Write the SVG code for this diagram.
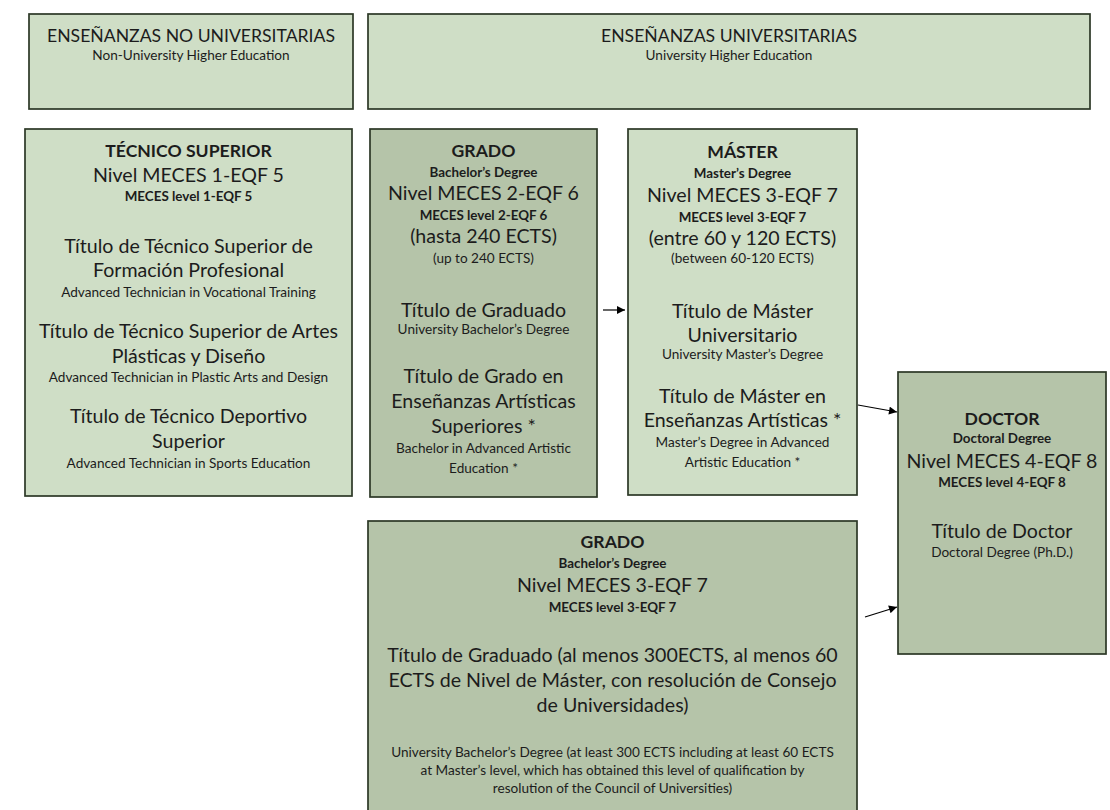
<svg xmlns="http://www.w3.org/2000/svg" width="1110" height="810" viewBox="0 0 1110 810">
<style>
text{font-family:Lato,"Liberation Sans",sans-serif;fill:#1c1c1c;text-anchor:middle}
.box{stroke:#2c3826;stroke-width:1.7}
.light{fill:#cfdec6}
.dark{fill:#b5c4a9}
.h{font-size:17.6px}
.t{font-size:17.6px;font-weight:bold}
.L{font-size:19.6px}
.s{font-size:13.6px}
.sb{font-size:13.4px;font-weight:bold}
.c{stroke:#000;stroke-width:1.2;fill:none;marker-end:url(#ah)}
</style>
<defs>
<marker id="ah" viewBox="0 0 10 10" refX="10" refY="5" markerWidth="9" markerHeight="8" markerUnits="userSpaceOnUse" orient="auto">
<path d="M0,0 L10,5 L0,10 z" fill="#000"/>
</marker>
</defs>
<rect width="1110" height="810" fill="#fff"/>
<g id="hdr-nouniv">
<rect class="box light" x="29" y="14" width="324" height="95"/>
<text class="h" x="191" y="42">ENSEÑANZAS NO UNIVERSITARIAS</text>
<text class="s" x="191" y="60">Non-University Higher Education</text>
</g>
<g id="hdr-univ">
<rect class="box light" x="368" y="14" width="722" height="95"/>
<text class="h" x="729" y="42">ENSEÑANZAS UNIVERSITARIAS</text>
<text class="s" x="729" y="60">University Higher Education</text>
</g>
<g id="tecnico">
<rect class="box light" x="25" y="129" width="327" height="367"/>
<text class="t" x="188.5" y="157">TÉCNICO SUPERIOR</text>
<text class="L" x="188.5" y="182">Nivel MECES 1-EQF 5</text>
<text class="sb" x="188.5" y="201">MECES level 1-EQF 5</text>
<text class="L" x="188.5" y="253">Título de Técnico Superior de</text>
<text class="L" x="188.5" y="277">Formación Profesional</text>
<text class="s" x="188.5" y="297">Advanced Technician in Vocational Training</text>
<text class="L" x="188.5" y="338">Título de Técnico Superior de Artes</text>
<text class="L" x="188.5" y="363">Plásticas y Diseño</text>
<text class="s" x="188.5" y="382">Advanced Technician in Plastic Arts and Design</text>
<text class="L" x="188.5" y="423">Título de Técnico Deportivo</text>
<text class="L" x="188.5" y="448">Superior</text>
<text class="s" x="188.5" y="468">Advanced Technician in Sports Education</text>
</g>
<g id="grado1">
<rect class="box dark" x="370" y="129" width="227" height="368"/>
<text class="t" x="483.5" y="157">GRADO</text>
<text class="sb" x="483.5" y="177">Bachelor’s Degree</text>
<text class="L" x="483.5" y="200">Nivel MECES 2-EQF 6</text>
<text class="sb" x="483.5" y="220">MECES level 2-EQF 6</text>
<text class="L" x="483.5" y="243">(hasta 240 ECTS)</text>
<text class="s" x="483.5" y="263">(up to 240 ECTS)</text>
<text class="L" x="483.5" y="317">Título de Graduado</text>
<text class="s" x="483.5" y="334">University Bachelor’s Degree</text>
<text class="L" x="483.5" y="383">Título de Grado en</text>
<text class="L" x="483.5" y="408">Enseñanzas Artísticas</text>
<text class="L" x="483.5" y="433">Superiores *</text>
<text class="s" x="483.5" y="453">Bachelor in Advanced Artistic</text>
<text class="s" x="483.5" y="473">Education *</text>
</g>
<g id="master">
<rect class="box light" x="628" y="129" width="229" height="366"/>
<text class="t" x="742.5" y="158">MÁSTER</text>
<text class="sb" x="742.5" y="178">Master’s Degree</text>
<text class="L" x="742.5" y="202">Nivel MECES 3-EQF 7</text>
<text class="sb" x="742.5" y="222">MECES level 3-EQF 7</text>
<text class="L" x="742.5" y="245">(entre 60 y 120 ECTS)</text>
<text class="s" x="742.5" y="263">(between 60-120 ECTS)</text>
<text class="L" x="742.5" y="318">Título de Máster</text>
<text class="L" x="742.5" y="342">Universitario</text>
<text class="s" x="742.5" y="359">University Master’s Degree</text>
<text class="L" x="742.5" y="403">Título de Máster en</text>
<text class="L" x="742.5" y="427">Enseñanzas Artísticas *</text>
<text class="s" x="742.5" y="447">Master’s Degree in Advanced</text>
<text class="s" x="742.5" y="467">Artistic Education *</text>
</g>
<g id="doctor">
<rect class="box dark" x="898" y="372" width="208" height="282"/>
<text class="t" x="1002" y="425">DOCTOR</text>
<text class="sb" x="1002" y="443">Doctoral Degree</text>
<text class="L" x="1002" y="468">Nivel MECES 4-EQF 8</text>
<text class="sb" x="1002" y="487">MECES level 4-EQF 8</text>
<text class="L" x="1002" y="538">Título de Doctor</text>
<text class="s" x="1002" y="557">Doctoral Degree (Ph.D.)</text>
</g>
<g id="grado2">
<rect class="box dark" x="368" y="521" width="489" height="300"/>
<text class="t" x="612.5" y="548">GRADO</text>
<text class="sb" x="612.5" y="568">Bachelor’s Degree</text>
<text class="L" x="612.5" y="592">Nivel MECES 3-EQF 7</text>
<text class="sb" x="612.5" y="612">MECES level 3-EQF 7</text>
<text class="L" x="612.5" y="662">Título de Graduado (al menos 300ECTS, al menos 60</text>
<text class="L" x="612.5" y="687">ECTS de Nivel de Máster, con resolución de Consejo</text>
<text class="L" x="612.5" y="712">de Universidades)</text>
<text class="s" x="612.5" y="757">University Bachelor’s Degree (at least 300 ECTS including at least 60 ECTS</text>
<text class="s" x="612.5" y="775">at Master’s level, which has obtained this level of qualification by</text>
<text class="s" x="612.5" y="793">resolution of the Council of Universities)</text>
</g>
<g id="connectors">
<line class="c" x1="603" y1="310" x2="625" y2="310"/>
<line class="c" x1="858" y1="405" x2="897" y2="412"/>
<line class="c" x1="865" y1="617" x2="897" y2="607"/>
</g>
</svg>
